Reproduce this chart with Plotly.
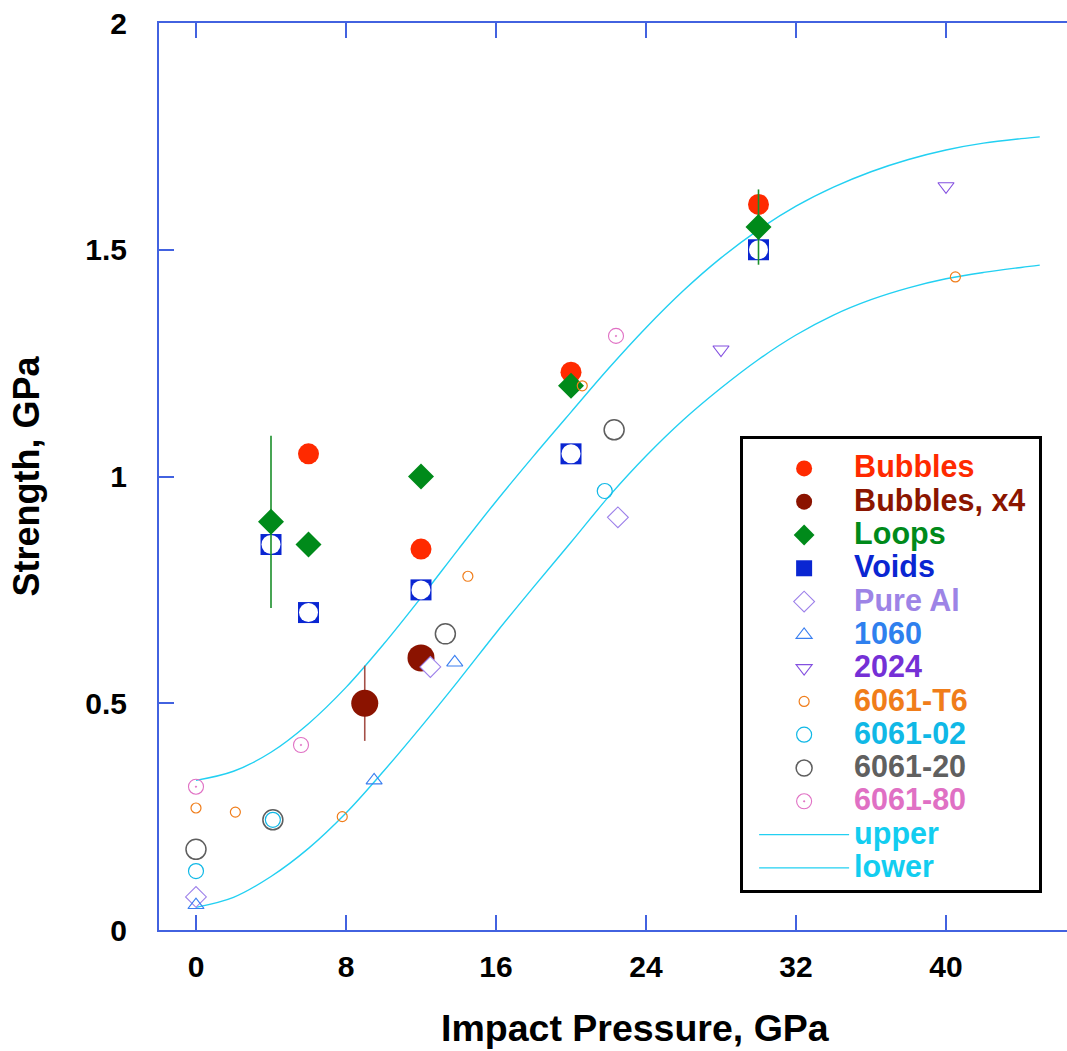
import plotly.graph_objects as go

# ---------------- data ----------------
bubbles_x = [6, 12, 20, 30]
bubbles_y = [1.05, 0.84, 1.23, 1.60]

bubbles4_x = [9, 12]
bubbles4_y = [0.50, 0.60]
bubbles4_err = [0.083, 0.0]

loops_x = [4, 6, 12, 20, 30]
loops_y = [0.90, 0.85, 1.00, 1.20, 1.55]
loops_err = [0.19, 0.0, 0.0, 0.0, 0.083]

voids_x = [4, 6, 12, 20, 30]
voids_y = [0.85, 0.70, 0.75, 1.05, 1.50]

pureal_x = [0, 12.5, 22.5]
pureal_y = [0.073, 0.58, 0.91]

al1060_x = [0, 9.5, 13.8]
al1060_y = [0.055, 0.33, 0.59]

al2024_x = [28, 40]
al2024_y = [1.28, 1.64]

t6_x = [0, 2.1, 7.8, 14.5, 20.6, 40.5]
t6_y = [0.269, 0.26, 0.25, 0.78, 1.20, 1.44]

a02_x = [0, 4.1, 21.8]
a02_y = [0.13, 0.243, 0.968]

a20_x = [0, 4.1, 13.3, 22.3]
a20_y = [0.178, 0.243, 0.653, 1.103]

a80_x = [0, 5.6, 22.4]
a80_y = [0.316, 0.408, 1.31]

curve_x = [0, 2, 4, 6, 8, 10, 12, 14, 16, 18, 20, 22, 24, 26, 28, 30,
           32, 34, 36, 38, 40, 42, 44, 45]
upper_y = [0.330, 0.350, 0.392, 0.455, 0.535, 0.630, 0.733, 0.840, 0.945,
           1.045, 1.142, 1.238, 1.328, 1.410, 1.482, 1.544, 1.596, 1.638,
           1.672, 1.699, 1.720, 1.735, 1.745, 1.749]
lower_y = [0.050, 0.072, 0.118, 0.180, 0.258, 0.350, 0.448, 0.550, 0.655,
           0.756, 0.855, 0.955, 1.045, 1.125, 1.195, 1.258, 1.312, 1.356,
           1.390, 1.416, 1.436, 1.450, 1.461, 1.466]

x_ticks = [0, 8, 16, 24, 32, 40]
y_ticks = [0, 0.5, 1, 1.5, 2]

x_title = "Impact Pressure, GPa"
y_title = "Strength, GPa"

# ---------------- styling ----------------
FONT = "Liberation Sans, Arial, Helvetica, sans-serif"
AXIS_BLUE = "#4262e0"
CYAN = "#22d0f2"


def lab(text, color, pad=""):
    return f'<span style="color:{color};font-size:30.5px">{text}{pad}</span>'


fig = go.Figure()

# fitted bounds (drawn underneath)
fig.add_trace(go.Scatter(x=curve_x, y=upper_y, mode="lines", name=lab("upper", "#12cdf0"),
                         line=dict(color=CYAN, width=1.4, shape="spline", smoothing=1),
                         legendrank=12))
fig.add_trace(go.Scatter(x=curve_x, y=lower_y, mode="lines", name=lab("lower", "#12cdf0"),
                         line=dict(color=CYAN, width=1.4, shape="spline", smoothing=1),
                         legendrank=13))

fig.add_trace(go.Scatter(x=bubbles_x, y=bubbles_y, mode="markers", name=lab("Bubbles", "#ff2a00"),
                         marker=dict(symbol="circle", size=21, color="#ff2a00"),
                         legendrank=1))
fig.add_trace(go.Scatter(x=bubbles4_x, y=bubbles4_y, mode="markers",
                         name=lab("Bubbles, x4", "#8b1500", "&nbsp;"),
                         marker=dict(symbol="circle", size=27, color="#8b1300"),
                         error_y=dict(type="data", array=bubbles4_err, color="#a45048",
                                      thickness=1.6, width=0),
                         legendrank=2))
fig.add_trace(go.Scatter(x=voids_x, y=voids_y, mode="markers", name=lab("Voids", "#0a26d2"),
                         marker=dict(symbol="square", size=21, color="#0a26d2"),
                         legendrank=4))
fig.add_trace(go.Scatter(x=voids_x, y=voids_y, mode="markers", showlegend=False, hoverinfo="skip",
                         marker=dict(symbol="circle", size=19, color="white")))
fig.add_trace(go.Scatter(x=loops_x, y=loops_y, mode="markers", name=lab("Loops", "#008a1a"),
                         marker=dict(symbol="diamond", size=20, color="#008a1a"),
                         error_y=dict(type="data", array=loops_err, color="#1a8f2a",
                                      thickness=1.6, width=0),
                         legendrank=3))
fig.add_trace(go.Scatter(x=pureal_x, y=pureal_y, mode="markers", name=lab("Pure Al", "#9d84e6"),
                         marker=dict(symbol="diamond", size=16, color="white",
                                     line=dict(color="#9d80ea", width=1.1)),
                         legendrank=5))
fig.add_trace(go.Scatter(x=al1060_x, y=al1060_y, mode="markers", name=lab("1060", "#2f80ee"),
                         marker=dict(symbol="triangle-up-open", size=14, color="#3a7ff0",
                                     line=dict(width=1.1)),
                         legendrank=6))
fig.add_trace(go.Scatter(x=al2024_x, y=al2024_y, mode="markers", name=lab("2024", "#7530d6"),
                         marker=dict(symbol="triangle-down-open", size=14, color="#8450e0",
                                     line=dict(width=1.1)),
                         legendrank=7))
fig.add_trace(go.Scatter(x=t6_x, y=t6_y, mode="markers", name=lab("6061-T6", "#f07d1a"),
                         marker=dict(symbol="circle-open", size=10, color="#f07d1a",
                                     line=dict(width=1.2)),
                         legendrank=8))
fig.add_trace(go.Scatter(x=a20_x, y=a20_y, mode="markers", name=lab("6061-20", "#606060"),
                         marker=dict(symbol="circle-open", size=20, color="#5e5e5e",
                                     line=dict(width=1.5)),
                         legendrank=10))
fig.add_trace(go.Scatter(x=a02_x, y=a02_y, mode="markers", name=lab("6061-02", "#10b8e6"),
                         marker=dict(symbol="circle-open", size=15, color="#10b8e6",
                                     line=dict(width=1.2)),
                         legendrank=9))
fig.add_trace(go.Scatter(x=a80_x, y=a80_y, mode="markers", name=lab("6061-80", "#e070c4"),
                         marker=dict(symbol="circle-open-dot", size=15, color="#e070c4",
                                     line=dict(width=1.1)),
                         legendrank=11))

fig.update_layout(
    width=1067, height=1051,
    margin=dict(l=159, r=0, t=23, b=121),
    paper_bgcolor="white", plot_bgcolor="white",
    font=dict(family=FONT, color="black"),
    showlegend=True,
    legend=dict(x=0.64, y=0.5447, xanchor="left", yanchor="top",
                bgcolor="white", bordercolor="black", borderwidth=3,
                font=dict(family=FONT, size=23.3, weight="bold"),
                title=dict(text=" ", font=dict(size=6)),
                indentation=11,
                itemwidth=90, traceorder="normal", itemsizing="trace"),
    xaxis=dict(range=[-1.973, 46.453], tickvals=x_ticks, ticks="inside", ticklen=15,
               tickwidth=2, tickcolor=AXIS_BLUE, showline=True, linecolor=AXIS_BLUE,
               linewidth=2, mirror="ticks", showgrid=False, zeroline=False,
               tickfont=dict(family=FONT, size=30, weight="bold", color="black"),
               ticklabelstandoff=9),
    yaxis=dict(range=[0, 2], tickvals=y_ticks, ticks="inside", ticklen=15,
               tickwidth=2, tickcolor=AXIS_BLUE, showline=True, linecolor=AXIS_BLUE,
               linewidth=2, mirror=False, showgrid=False, zeroline=False,
               tickfont=dict(family=FONT, size=30, weight="bold", color="black"),
               ticklabelstandoff=24,
               title=dict(text=y_title, standoff=35,
                          font=dict(family=FONT, size=36, weight="bold", color="black"))),
    yaxis2=dict(range=[0, 2], tickvals=y_ticks, overlaying="y", side="right",
                ticks="inside", ticklen=7, tickwidth=2, tickcolor=AXIS_BLUE,
                showline=False, showgrid=False, zeroline=False, showticklabels=False),
    annotations=[dict(text=x_title, xref="paper", yref="paper", x=0.525, y=-0.108,
                      xanchor="center", yanchor="middle", showarrow=False,
                      font=dict(family=FONT, size=37.5, weight="bold", color="black"))],
)

fig.write_html("out.html")
